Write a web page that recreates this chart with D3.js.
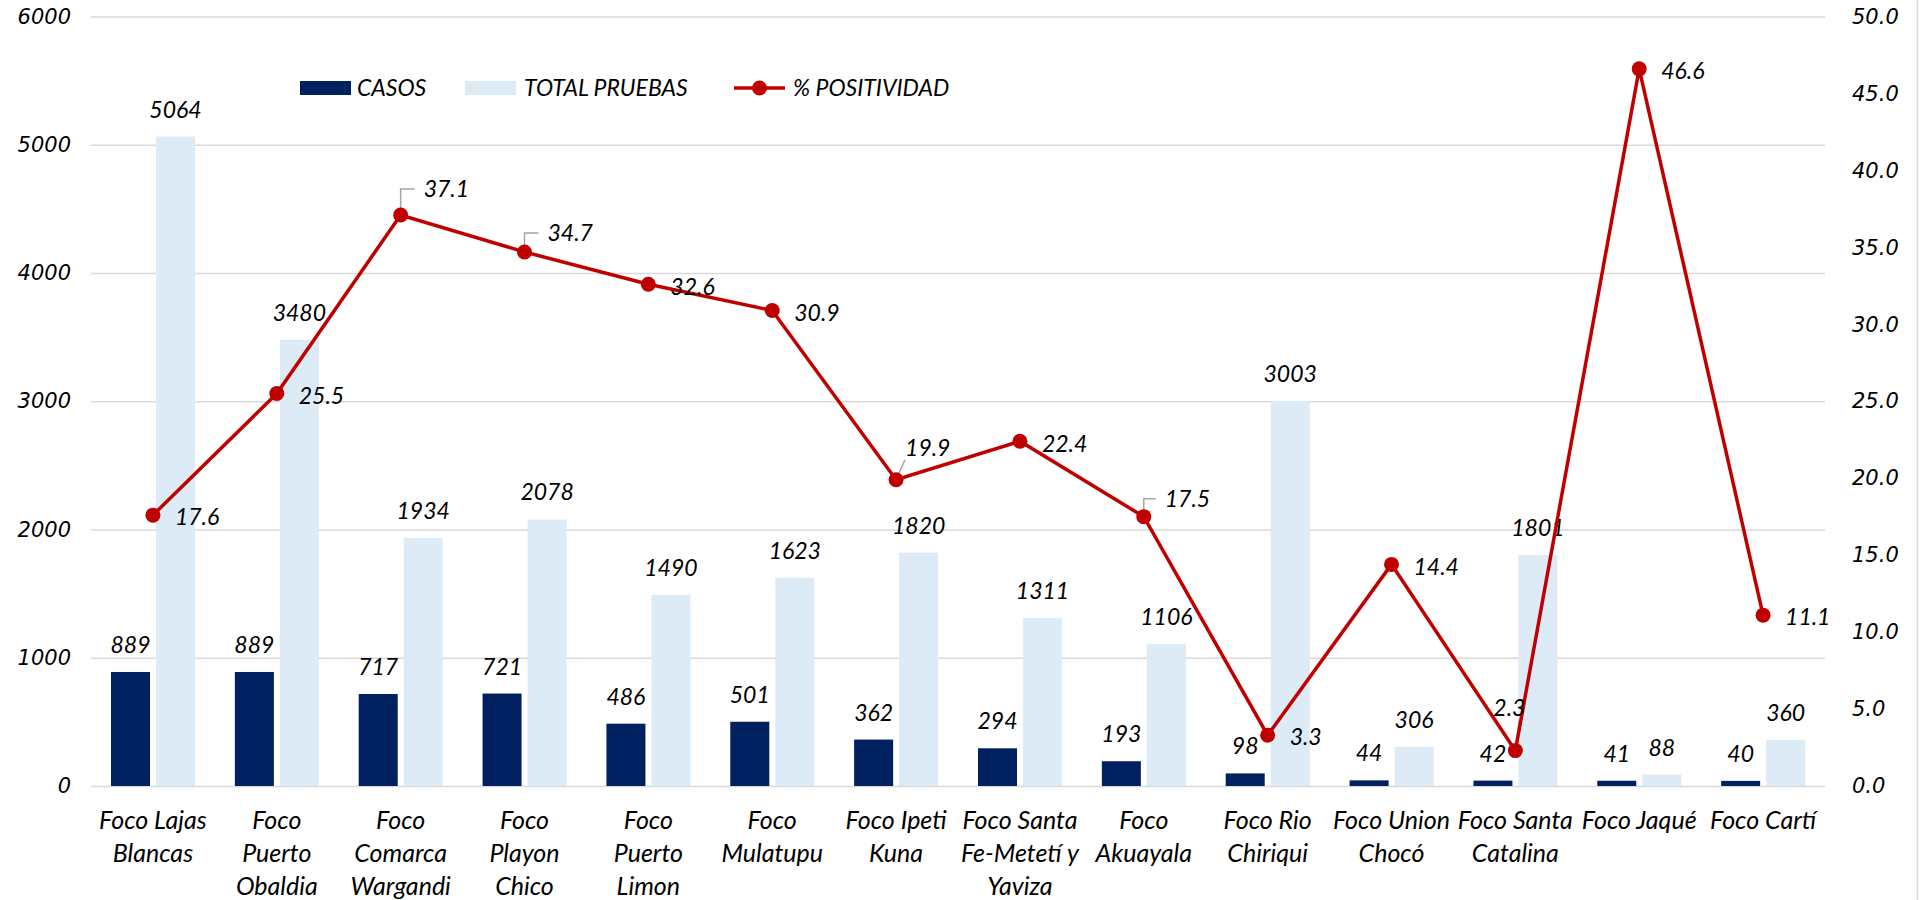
<!DOCTYPE html>
<html>
<head>
<meta charset="utf-8">
<script src="https://cdn.jsdelivr.net/npm/d3@7"></script>
<style>
  body { margin: 0; background: #fff; }
  .lbl { font-family: Lato, "Open Sans", sans-serif; font-style: italic; font-size: 23px; fill: #000; }
  .cat { font-size: 25px; }
  .tick text { font-family: "DejaVu Sans", Verdana, sans-serif; font-style: italic; font-size: 21px; fill: #000; }
</style>
</head>
<body>
<div id="chart"></div>
<script>
/* categories (with manual line breaks as in the original) */
var categories = [
  ["Foco Lajas", "Blancas"],
  ["Foco", "Puerto", "Obaldia"],
  ["Foco", "Comarca", "Wargandi"],
  ["Foco", "Playon", "Chico"],
  ["Foco", "Puerto", "Limon"],
  ["Foco", "Mulatupu"],
  ["Foco Ipeti", "Kuna"],
  ["Foco Santa", "Fe-Metetí y", "Yaviza"],
  ["Foco", "Akuayala"],
  ["Foco Rio", "Chiriqui"],
  ["Foco Union", "Chocó"],
  ["Foco Santa", "Catalina"],
  ["Foco Jaqué"],
  ["Foco Cartí"]
];
var casos = [889, 889, 717, 721, 486, 501, 362, 294, 193, 98, 44, 42, 41, 40];
var pruebas = [5064, 3480, 1934, 2078, 1490, 1623, 1820, 1311, 1106, 3003, 306, 1801, 88, 360];
var positividad = [17.6, 25.5, 37.1, 34.7, 32.6, 30.9, 19.9, 22.4, 17.5, 3.3, 14.4, 2.3, 46.6, 11.1];
var leftTicks = [0, 1000, 2000, 3000, 4000, 5000, 6000];
var rightTicks = [0, 5, 10, 15, 20, 25, 30, 35, 40, 45, 50];

/* label nudges for the % labels that were dragged in the original (px) */
var pctLabelDx = [22, 22, 23, 23, 22, 22, 9, 22, 21, 22, 22, -22, 22, 22];
var pctLabelDy = [2, 2, -26, -19, 2, 2, -32, 2, -18, 2, 2, -43, 2, 2];
var leader = [null, null, "elbow", "elbow", null, null, "diag", null, "elbow", null, null, "diag", null, null];

var W = 1919, H = 900;
var plotLeft = 91, plotRight = 1825, plotTop = 16.5, plotBottom = 786;

var svg = d3.select("#chart").append("svg")
  .attr("width", W)
  .attr("height", H);

var keys = categories.map(function(d, i) { return "c" + i; });

var x = d3.scaleBand().domain(keys).range([plotLeft, plotRight]);
var sub = d3.scaleBand().domain(["casos", "pruebas"]).range([20, 104]).paddingInner(0.1333);
var y = d3.scaleLinear().domain([0, 6000]).range([plotBottom, plotTop]);
var y2 = d3.scaleLinear().domain([0, 50]).range([plotBottom, plotTop]);

/* gridlines + left axis */
var gAxL = svg.append("g")
  .attr("transform", "translate(" + plotLeft + ",0)")
  .call(d3.axisLeft(y).tickValues(leftTicks).tickSize(-(plotRight - plotLeft)).tickPadding(20).tickFormat(d3.format("d")));
gAxL.select(".domain").remove();
gAxL.selectAll(".tick line").attr("stroke", "#d9d9d9").attr("stroke-width", 1.5);

/* right axis */
var gAxR = svg.append("g")
  .attr("transform", "translate(" + plotRight + ",0)")
  .call(d3.axisRight(y2).tickValues(rightTicks).tickSize(0).tickPadding(27).tickFormat(d3.format(".1f")));
gAxR.select(".domain").remove();
gAxR.selectAll(".tick text").attr("text-anchor", "start");

/* right border of chart area */
svg.append("line")
  .attr("x1", W - 1.5).attr("x2", W - 1.5)
  .attr("y1", 0).attr("y2", H)
  .attr("stroke", "#d9d9d9").attr("stroke-width", 1.5);

/* bars */
var gBars = svg.append("g");
gBars.selectAll("rect.casos")
  .data(casos)
  .enter().append("rect")
    .attr("class", "casos")
    .attr("x", function(d, i) { return x(keys[i]) + sub("casos"); })
    .attr("y", function(d) { return y(d); })
    .attr("width", sub.bandwidth())
    .attr("height", function(d) { return y(0) - y(d); })
    .attr("fill", "#002060");

gBars.selectAll("rect.pruebas")
  .data(pruebas)
  .enter().append("rect")
    .attr("class", "pruebas")
    .attr("x", function(d, i) { return x(keys[i]) + sub("pruebas"); })
    .attr("y", function(d) { return y(d); })
    .attr("width", sub.bandwidth())
    .attr("height", function(d) { return y(0) - y(d); })
    .attr("fill", "#ddebf7");

/* bar labels */
gBars.selectAll("text.casos")
  .data(casos)
  .enter().append("text")
    .attr("class", "lbl")
    .attr("x", function(d, i) { return x(keys[i]) + sub("casos") + sub.bandwidth() / 2; })
    .attr("y", function(d) { return y(d) - 19; })
    .attr("text-anchor", "middle")
    .text(function(d) { return d; });

gBars.selectAll("text.pruebas")
  .data(pruebas)
  .enter().append("text")
    .attr("class", "lbl")
    .attr("x", function(d, i) { return x(keys[i]) + sub("pruebas") + sub.bandwidth() / 2; })
    .attr("y", function(d) { return y(d) - 19; })
    .attr("text-anchor", "middle")
    .text(function(d) { return d; });

/* % positividad line */
var cx = function(i) { return x(keys[i]) + x.bandwidth() / 2; };
var gLine = svg.append("g");

/* leader lines for moved labels */
positividad.forEach(function(v, i) {
  if (!leader[i]) return;
  var px = cx(i), py = y2(v);
  var lx = px + pctLabelDx[i], ly = py + pctLabelDy[i];
  var pts;
  if (leader[i] == "elbow") {
    pts = [[px, py], [px, ly], [lx - 9, ly]];
  } else {
    pts = [[px, py], [lx + (pctLabelDx[i] < 0 ? 26 : 0), ly + 12]];
  }
  gLine.append("path")
    .attr("d", d3.line()(pts))
    .attr("fill", "none")
    .attr("stroke", "#a6a6a6")
    .attr("stroke-width", 1.5);
});

gLine.append("path")
  .datum(positividad)
  .attr("d", d3.line()
    .x(function(d, i) { return cx(i); })
    .y(function(d) { return y2(d); }))
  .attr("fill", "none")
  .attr("stroke", "#c00000")
  .attr("stroke-width", 3.5);

gLine.selectAll("circle")
  .data(positividad)
  .enter().append("circle")
    .attr("cx", function(d, i) { return cx(i); })
    .attr("cy", function(d) { return y2(d); })
    .attr("r", 7.5)
    .attr("fill", "#c00000");

gLine.selectAll("text")
  .data(positividad)
  .enter().append("text")
    .attr("class", "lbl")
    .attr("x", function(d, i) { return cx(i) + pctLabelDx[i]; })
    .attr("y", function(d, i) { return y2(d) + pctLabelDy[i]; })
    .attr("dy", "0.36em")
    .text(function(d) { return d3.format(".1f")(d); });

/* category labels */
var gCat = svg.append("g");
categories.forEach(function(lines, i) {
  var t = gCat.append("text")
    .attr("class", "lbl cat")
    .attr("text-anchor", "middle")
    .attr("x", cx(i))
    .attr("y", 820);
  lines.forEach(function(s, j) {
    t.append("tspan")
      .attr("x", cx(i))
      .attr("dy", j == 0 ? "0.36em" : 33)
      .text(s);
  });
});

/* legend */
var legend = [
  {name: "CASOS", type: "rect", color: "#002060", x: 300, tx: 357},
  {name: "TOTAL PRUEBAS", type: "rect", color: "#ddebf7", x: 465, tx: 524},
  {name: "% POSITIVIDAD", type: "line", color: "#c00000", x: 734, tx: 793}
];
var gLeg = svg.append("g").attr("transform", "translate(0,88)");
legend.forEach(function(d) {
  if (d.type == "rect") {
    gLeg.append("rect").attr("x", d.x).attr("y", -7).attr("width", 51).attr("height", 14).attr("fill", d.color);
  } else {
    gLeg.append("line").attr("x1", d.x).attr("x2", d.x + 51).attr("y1", 0).attr("y2", 0)
      .attr("stroke", d.color).attr("stroke-width", 3.5);
    gLeg.append("circle").attr("cx", d.x + 25.5).attr("cy", 0).attr("r", 7.5).attr("fill", d.color);
  }
  gLeg.append("text").attr("class", "lbl").attr("x", d.tx).attr("y", 0).attr("dy", "0.36em").text(d.name);
});
</script>
</body>
</html>
